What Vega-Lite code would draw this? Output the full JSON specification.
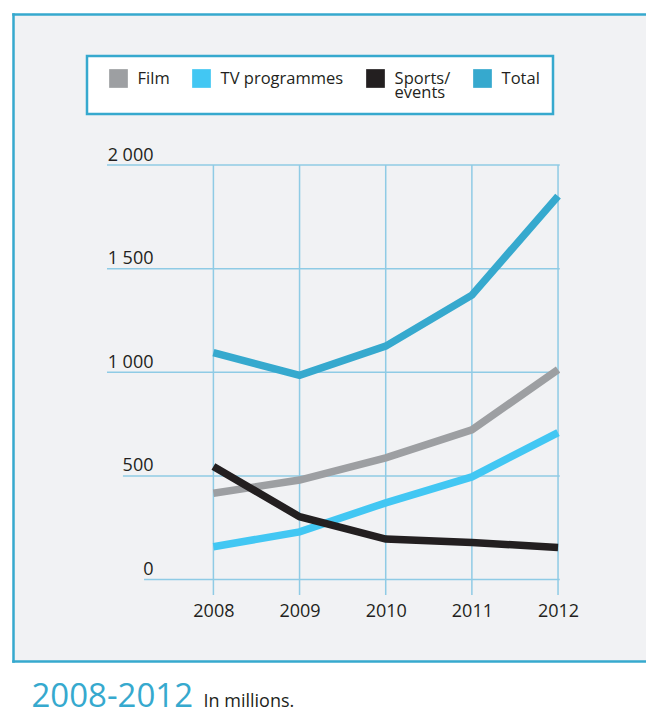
{
  "$schema": "https://vega.github.io/schema/vega-lite/v6.json",
  "width": 633,
  "height": 647,
  "autosize": {"type": "none"},
  "padding": {"left": 13, "top": 14, "right": 0, "bottom": 59},
  "background": "#ffffff",
  "config": {
    "font": "Open Sans",
    "view": {"fill": "#f1f2f4", "stroke": null},
    "style": {"guide-label": {"lineHeight": 14}}
  },
  "datasets": {
    "series": [
      {"year": 2008, "series": "Film", "value": 416},
      {"year": 2009, "series": "Film", "value": 480},
      {"year": 2010, "series": "Film", "value": 587},
      {"year": 2011, "series": "Film", "value": 722},
      {"year": 2012, "series": "Film", "value": 1013},
      {"year": 2008, "series": "TV programmes", "value": 158},
      {"year": 2009, "series": "TV programmes", "value": 230},
      {"year": 2010, "series": "TV programmes", "value": 370},
      {"year": 2011, "series": "TV programmes", "value": 495},
      {"year": 2012, "series": "TV programmes", "value": 709},
      {"year": 2008, "series": "Sports/events", "value": 545},
      {"year": 2009, "series": "Sports/events", "value": 303},
      {"year": 2010, "series": "Sports/events", "value": 195},
      {"year": 2011, "series": "Sports/events", "value": 178},
      {"year": 2012, "series": "Sports/events", "value": 155},
      {"year": 2008, "series": "Total", "value": 1095},
      {"year": 2009, "series": "Total", "value": 985},
      {"year": 2010, "series": "Total", "value": 1126},
      {"year": 2011, "series": "Total", "value": 1372},
      {"year": 2012, "series": "Total", "value": 1850}
    ],
    "levels": [
      {"level": 0},
      {"level": 500},
      {"level": 1000},
      {"level": 1500},
      {"level": 2000}
    ],
    "years": [
      {"year": 2008},
      {"year": 2009},
      {"year": 2010},
      {"year": 2011},
      {"year": 2012}
    ]
  },
  "resolve": {"axis": {"x": "independent", "y": "independent"}},
  "layer": [
    {
      "data": {"name": "years"},
      "mark": {"type": "rule", "stroke": "#8fcbe5", "strokeWidth": 1.5},
      "encoding": {
        "x": {
          "field": "year",
          "type": "quantitative",
          "scale": {"domain": [2005.674, 2013.021], "nice": false, "zero": false},
          "axis": {"orient": "top", "offset": 0, "domain": true, "domainColor": "#36a9ce", "domainWidth": 2.5, "domainCap": "square", "labels": false, "ticks": false, "grid": false, "title": null}
        },
        "y": {
          "datum": -75,
          "type": "quantitative",
          "scale": {"domain": [-393.2, 2728.6], "nice": false, "zero": false},
          "axis": {"orient": "left", "offset": 0, "domain": true, "domainColor": "#36a9ce", "domainWidth": 2.5, "domainCap": "square", "labels": false, "ticks": false, "grid": false, "title": null}
        },
        "y2": {"datum": 2000}
      }
    },
    {
      "data": {"name": "levels"},
      "transform": [{"filter": "datum.level >= 1000"}],
      "mark": {"type": "rule", "stroke": "#8fcbe5", "strokeWidth": 1.5},
      "encoding": {
        "x": {
          "datum": 2006.765,
          "type": "quantitative",
          "axis": {"orient": "bottom", "offset": 0, "domain": true, "domainColor": "#36a9ce", "domainWidth": 2.5, "domainCap": "square", "labels": false, "ticks": false, "grid": false, "title": null}
        },
        "x2": {"datum": 2012.02},
        "y": {"field": "level", "type": "quantitative", "axis": null}
      }
    },
    {
      "data": {"name": "levels"},
      "transform": [{"filter": "datum.level == 500"}],
      "mark": {"type": "rule", "stroke": "#8fcbe5", "strokeWidth": 1.5},
      "encoding": {
        "x": {"datum": 2006.95, "type": "quantitative", "axis": null},
        "x2": {"datum": 2012.02},
        "y": {"field": "level", "type": "quantitative", "axis": null}
      }
    },
    {
      "data": {"name": "levels"},
      "transform": [{"filter": "datum.level == 0"}],
      "mark": {"type": "rule", "stroke": "#8fcbe5", "strokeWidth": 1.5},
      "encoding": {
        "x": {"datum": 2007.195, "type": "quantitative", "axis": null},
        "x2": {"datum": 2012.02},
        "y": {"field": "level", "type": "quantitative", "axis": null}
      }
    },
    {
      "data": {"name": "series"},
      "mark": {"type": "line", "strokeWidth": 7.5, "strokeJoin": "miter", "strokeCap": "butt"},
      "encoding": {
        "x": {
          "field": "year",
          "type": "quantitative",
          "axis": {
            "orient": "bottom",
            "offset": -58.5,
            "values": [2008, 2009, 2010, 2011, 2012],
            "format": "d",
            "domain": false,
            "ticks": false,
            "tickSize": 0,
            "grid": false,
            "labelPadding": 0,
            "labelFlush": false,
            "labelFont": "Open Sans",
            "labelFontSize": 18,
            "labelColor": "#231f20",
            "labelBaseline": "top",
            "title": "In millions.",
            "titleX": 190,
            "titleY": 104.2,
            "titleAlign": "left",
            "titleBaseline": "alphabetic",
            "titleFont": "Open Sans",
            "titleFontSize": 18,
            "titleFontWeight": "normal",
            "titleColor": "#231f20"
          }
        },
        "y": {
          "field": "value",
          "type": "quantitative",
          "axis": {
            "orient": "left",
            "offset": -140,
            "values": [0, 500, 1000, 1500, 2000],
            "labelExpr": "replace(format(datum.value, ','), ',', ' ')",
            "domain": false,
            "ticks": false,
            "tickSize": 0,
            "grid": false,
            "labelPadding": 0,
            "labelFont": "Open Sans",
            "labelFontSize": 18,
            "labelColor": "#231f20",
            "labelAlign": "right",
            "labelBaseline": "alphabetic",
            "labelOffset": -5,
            "title": "2008-2012",
            "titleX": -122,
            "titleY": 692.7,
            "titleAngle": 0,
            "titleAlign": "left",
            "titleBaseline": "alphabetic",
            "titleFont": "Open Sans",
            "titleFontSize": 33,
            "titleFontWeight": "normal",
            "titleColor": "#36a9ce"
          }
        },
        "color": {
          "field": "series",
          "type": "nominal",
          "sort": ["Film", "TV programmes", "Sports/events", "Total"],
          "scale": {
            "domain": ["Film", "TV programmes", "Sports/events", "Total"],
            "range": ["#9d9fa2", "#42c7f3", "#231f20", "#36a9ce"]
          },
          "legend": {
            "orient": "none",
            "legendX": 74,
            "legendY": 42,
            "direction": "horizontal",
            "columns": 4,
            "title": null,
            "fillColor": "#ffffff",
            "strokeColor": "#36a9ce",
            "padding": 13,
            "symbolOffset": 9,
            "symbolType": "square",
            "symbolSize": 350,
            "symbolStrokeWidth": 0,
            "labelOffset": 9.6,
            "columnPadding": 13,
            "labelFont": "Open Sans",
            "labelFontSize": 16.5,
            "labelColor": "#231f20",
            "labelLimit": 0,
            "labelBaseline": "middle",
            "labelExpr": "datum.label == 'Sports/events' ? ['Sports/', 'events'] : [datum.label, '']",
            "encode": {
              "legend": {"update": {"strokeWidth": {"value": 2.5}}},
              "symbols": {"update": {"fill": {"scale": "color", "field": "value"}, "opacity": {"value": 1}}}
            }
          }
        },
        "order": {"field": "year"}
      }
    }
  ]
}
